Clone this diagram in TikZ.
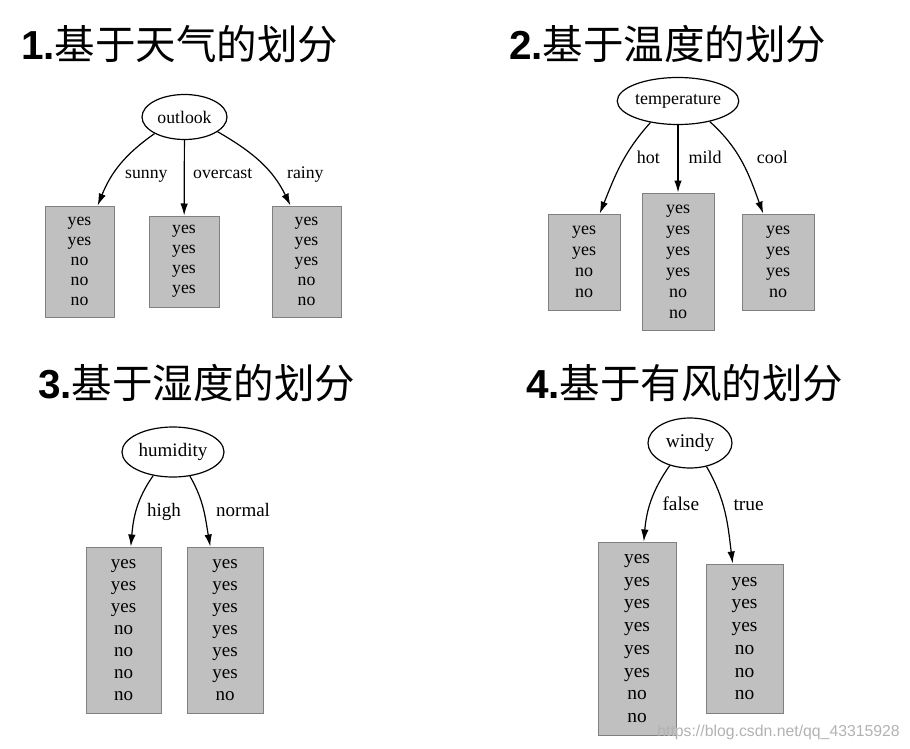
\documentclass[tikz,border=0pt]{standalone}
\usepackage{fontspec}
\setmainfont{Liberation Serif}
\newfontfamily\headfont{Liberation Sans}
\newfontfamily\cjk{Noto Sans CJK SC}
\usetikzlibrary{shapes.geometric,arrows.meta}
\definecolor{boxfill}{RGB}{192,192,192}
\definecolor{boxline}{RGB}{128,128,128}
\definecolor{markgray}{RGB}{178,178,178}
\newcommand{\splittitle}[2]{{\headfont\bfseries #1}{\cjk #2}}
\tikzset{
  attr/.style={ellipse, draw, line width=1.2pt, inner sep=0pt},
  leaf/.style={rectangle, draw=boxline, line width=1pt, fill=boxfill, align=center, inner sep=0pt},
  branch/.style={line width=1.2pt, -{Latex[length=12pt,width=7.5pt]}},
  lbl/.style={anchor=base west, inner sep=0pt},
  heading/.style={anchor=base west, inner sep=0pt, font=\fontsize{40.5}{45}\selectfont},
}
\begin{document}
\begin{tikzpicture}[x=1pt,y=1pt]
  \useasboundingbox (0,0) rectangle (910,-749);
  % titles
  \node[heading] (t1) at (21,-60) {\splittitle{1.}{基于天气的划分}};
  \node[heading] (t2) at (509,-59.5) {\splittitle{2.}{基于温度的划分}};
  \node[heading] (t3) at (38,-398) {\splittitle{3.}{基于湿度的划分}};
  \node[heading] (t4) at (526,-398) {\splittitle{4.}{基于有风的划分}};
  % outlook
  \begin{scope}[font=\fontsize{17.7}{20}\selectfont]
    \node[attr, minimum width=85, minimum height=45] (outlook) at (184.5,-117) {outlook};
    \node[leaf, minimum width=69, minimum height=111] (sunny) at (79.5,-261.5) {yes\\yes\\no\\no\\no};
    \node[leaf, minimum width=70, minimum height=91] (overcast) at (184,-261.5) {yes\\yes\\yes\\yes};
    \node[leaf, minimum width=69, minimum height=111] (rainy) at (306.5,-261.5) {yes\\yes\\yes\\no\\no};
    \node[lbl] (lsunny) at (125,-178) {sunny};
    \node[lbl] (lovercast) at (193,-178) {overcast};
    \node[lbl] (lrainy) at (287,-178) {rainy};
    \draw[branch] (outlook.209) to[out=215, in=68] (sunny.72);
    \draw[branch] (outlook) -- (overcast);
    \draw[branch] (outlook.-24) to[out=-30, in=116] (rainy.106);
  \end{scope}
  % temperature
  \begin{scope}[font=\fontsize{18}{21}\selectfont]
    \node[attr, minimum width=120, minimum height=47] (temperature) at (678,-101) {temperature};
    \node[leaf, minimum width=72, minimum height=96] (hot) at (584,-262) {yes\\yes\\no\\no};
    \node[leaf, minimum width=72, minimum height=137] (mild) at (678,-261.5) {yes\\yes\\yes\\yes\\no\\no};
    \node[leaf, minimum width=72, minimum height=96] (cool) at (778,-262) {yes\\yes\\yes\\no};
    \node[lbl] (lhot) at (636.7,-163) {hot};
    \node[lbl] (lmild) at (688.3,-163) {mild};
    \node[lbl] (lcool) at (756.7,-163) {cool};
    \draw[branch] (temperature.218) to[out=228, in=68] (hot.72);
    \draw[branch] (temperature) -- (mild);
    \draw[branch] (temperature.327) to[out=318, in=110] (cool.107);
  \end{scope}
  % humidity
  \begin{scope}[font=\fontsize{19}{22}\selectfont]
    \node[attr, minimum width=102, minimum height=50] (humidity) at (173,-452) {humidity};
    \node[leaf, minimum width=75, minimum height=166] (high) at (123.5,-630) {yes\\yes\\yes\\no\\no\\no\\no};
    \node[leaf, minimum width=76, minimum height=166] (normal) at (225,-630) {yes\\yes\\yes\\yes\\yes\\yes\\no};
    \node[lbl] (lhigh) at (147,-516.5) {high};
    \node[lbl] (lnormal) at (216,-516.5) {normal};
    \draw[branch] (humidity.230) to[out=235, in=85] (high.85);
    \draw[branch] (humidity.305) to[out=300, in=100] (normal.100);
  \end{scope}
  % windy
  \begin{scope}[font=\fontsize{19.4}{22.7}\selectfont]
    \node[attr, minimum width=84, minimum height=50] (windy) at (690,-443) {windy};
    \node[leaf, minimum width=78, minimum height=193] (wfalse) at (637,-638.5) {yes\\yes\\yes\\yes\\yes\\yes\\no\\no};
    \node[leaf, minimum width=77, minimum height=149] (wtrue) at (744.5,-638.5) {yes\\yes\\yes\\no\\no\\no};
    \node[lbl] (lfalse) at (662.3,-510) {false};
    \node[lbl] (ltrue) at (733.3,-510) {true};
    \draw[branch] (windy.228) to[out=235, in=85] (wfalse.86);
    \draw[branch] (windy.305) to[out=300, in=97] (wtrue.99);
  \end{scope}
  \node[anchor=base east, inner sep=0pt, text=markgray, font=\headfont\fontsize{15.8}{18}\selectfont] (mark) at (900,-736) {https://blog.csdn.net/qq\_43315928};
\end{tikzpicture}
\end{document}
